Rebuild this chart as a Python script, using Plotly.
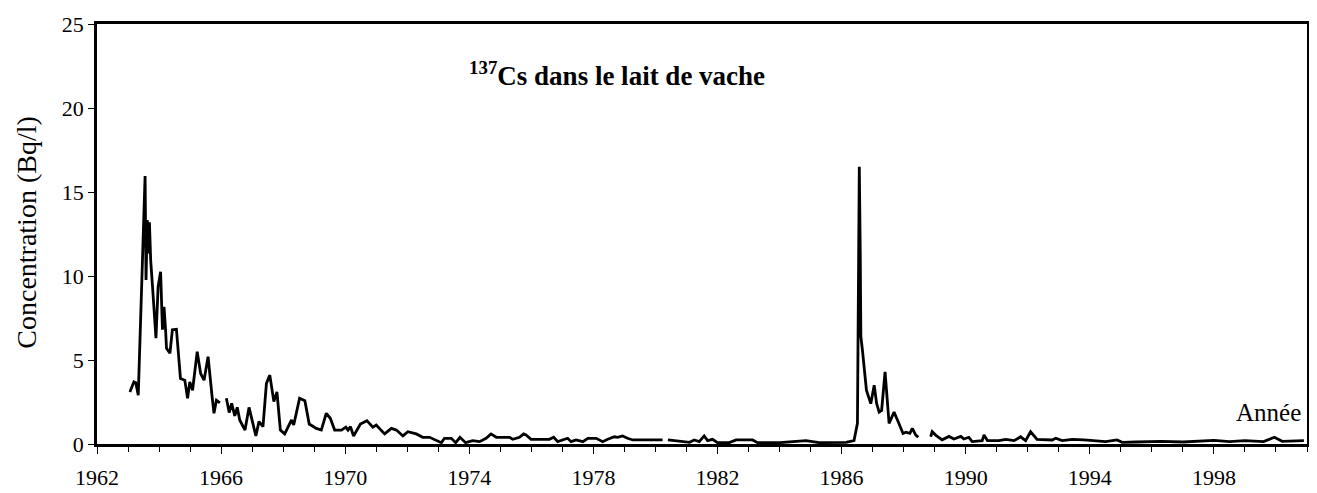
import plotly.graph_objs as go

# Data (None = gap in the record)
years = [
    1963.06, 1963.19, 1963.25, 1963.33, 1963.55, 1963.58, 1963.62, 1963.65, 1963.69, 1963.73,
    1963.79, 1963.90, 1963.97, 1964.05, 1964.11, 1964.16, 1964.21, 1964.24, 1964.35, 1964.43,
    1964.56, 1964.69, 1964.83, 1964.92, 1964.99, 1965.08, 1965.23, 1965.34, 1965.45, 1965.58,
    1965.70, 1965.77, 1965.85, 1965.96, 1966.06,
    1966.17, 1966.26, 1966.34, 1966.44, 1966.52, 1966.60, 1966.77, 1966.90, 1967.01, 1967.12,
    1967.22, 1967.35, 1967.46, 1967.57, 1967.70, 1967.80, 1967.91, 1968.05, 1968.27, 1968.34,
    1968.53, 1968.70, 1968.84, 1969.07, 1969.23, 1969.39, 1969.52, 1969.66, 1969.88, 1970.02,
    1970.09, 1970.17, 1970.27, 1970.49, 1970.70, 1970.89, 1971.00, 1971.27, 1971.49, 1971.65,
    1971.86, 1972.02, 1972.29, 1972.50, 1972.72, 1972.94, 1973.10, 1973.20, 1973.42, 1973.56,
    1973.70, 1973.88, 1974.11, 1974.33, 1974.54, 1974.70, 1974.87, 1975.30, 1975.40, 1975.62,
    1975.75, 1975.83, 1975.99, 1976.58, 1976.72, 1976.85, 1977.17, 1977.28, 1977.44, 1977.66,
    1977.82, 1978.09, 1978.30, 1978.46, 1978.68, 1978.78, 1978.94, 1979.10, 1979.27, 1980.23,
    1980.31,
    1980.40, 1980.56, 1981.10, 1981.25, 1981.41, 1981.57, 1981.68, 1981.84, 1982.00, 1982.38,
    1982.60, 1983.13, 1983.29, 1983.67, 1984.00, 1984.85, 1985.28, 1986.14, 1986.40, 1986.51,
    1986.57, 1986.60, 1986.62, 1986.67, 1986.80, 1986.94, 1987.05, 1987.13, 1987.21, 1987.29,
    1987.40, 1987.53, 1987.69, 1987.80, 1987.98, 1988.07, 1988.20, 1988.28, 1988.39, 1988.47,
    1988.67,
    1988.87, 1988.92, 1989.03, 1989.24, 1989.46, 1989.62, 1989.84, 1989.94, 1990.10, 1990.21,
    1990.53, 1990.59, 1990.70, 1991.07, 1991.29, 1991.56, 1991.77, 1991.93, 1992.09, 1992.30,
    1992.79, 1992.90, 1993.11, 1993.43, 1993.81, 1994.08, 1994.51, 1994.88, 1995.04, 1995.50,
    1996.30, 1997.00, 1997.60, 1998.00, 1998.50, 1999.00, 1999.60, 1999.95, 2000.20, 2000.90,
]
concentration = [
    3.10, 3.70, 3.65, 2.90, 15.95, 9.76, 13.33, 11.35, 13.20, 10.95,
    9.36, 6.30, 9.36, 10.25, 6.80, 8.17, 6.80, 5.70, 5.40, 6.80,
    6.83, 3.90, 3.80, 2.72, 3.70, 3.20, 5.50, 4.20, 3.80, 5.20,
    3.00, 1.83, 2.60, 2.45, None,
    2.72, 1.87, 2.42, 1.67, 2.18, 1.43, 0.83, 2.18, 1.33, 0.48,
    1.33, 1.03, 3.60, 4.10, 2.52, 3.10, 0.83, 0.60, 1.43, 1.13,
    2.72, 2.58, 1.19, 0.93, 0.83, 1.83, 1.53, 0.83, 0.83, 1.00,
    0.83, 1.03, 0.48, 1.19, 1.39, 1.00, 1.13, 0.60, 0.93, 0.83,
    0.48, 0.73, 0.60, 0.40, 0.40, 0.24, 0.08, 0.34, 0.34, 0.08,
    0.40, 0.08, 0.20, 0.14, 0.34, 0.60, 0.40, 0.40, 0.28, 0.40,
    0.60, 0.54, 0.28, 0.28, 0.40, 0.14, 0.34, 0.14, 0.24, 0.14,
    0.34, 0.34, 0.14, 0.28, 0.43, 0.40, 0.48, 0.34, 0.24, 0.24,
    None,
    0.24, 0.20, 0.10, 0.24, 0.14, 0.48, 0.20, 0.28, 0.08, 0.08,
    0.24, 0.24, 0.08, 0.08, 0.08, 0.20, 0.08, 0.10, 0.20, 1.23,
    16.50, 11.50, 6.40, 5.60, 3.20, 2.40, 3.50, 2.40, 1.90, 2.00,
    4.30, 1.23, 1.90, 1.43, 0.63, 0.70, 0.63, 0.93, 0.53, 0.40,
    None,
    0.43, 0.73, 0.53, 0.25, 0.45, 0.30, 0.45, 0.30, 0.40, 0.14,
    0.20, 0.54, 0.20, 0.20, 0.28, 0.20, 0.43, 0.20, 0.73, 0.28,
    0.24, 0.34, 0.20, 0.28, 0.24, 0.20, 0.14, 0.24, 0.10, 0.12,
    0.16, 0.12, 0.16, 0.22, 0.14, 0.20, 0.14, 0.40, 0.16, 0.20,
]

tick_years = [1962, 1966, 1970, 1974, 1978, 1982, 1986, 1990, 1994, 1998]
conc_ticks = [0, 5, 10, 15, 20, 25]

serif = "Liberation Serif, Times New Roman, serif"

fig = go.Figure()

fig.add_trace(go.Scatter(
    x=years,
    y=concentration,
    mode='lines',
    line=dict(color='black', width=2.8),
    connectgaps=False,
    hoverinfo='x+y'
))

# the page body adds an 8px margin, so the figure is sized 8px smaller
fig.update_layout(
    width=1309,
    height=485,
    margin=dict(l=89, r=10, t=16, b=49, autoexpand=False),
    plot_bgcolor='white',
    paper_bgcolor='white',
    showlegend=False,
    font=dict(family=serif, color='black'),
    xaxis=dict(
        range=[1962, 2001],
        tickvals=tick_years,
        ticktext=[str(y) for y in tick_years],
        ticks='outside',
        ticklen=7,
        tickwidth=1,
        tickcolor='black',
        ticklabelstandoff=5,
        minor=dict(dtick=1, tick0=1962, ticks='outside', ticklen=5, tickcolor='black'),
        showline=True,
        linewidth=2.5,
        linecolor='black',
        mirror=True,
        showgrid=False,
        zeroline=False,
        automargin=False,
        tickfont=dict(family=serif, size=22),
    ),
    yaxis=dict(
        range=[0, 25],
        tickvals=conc_ticks,
        ticks='outside',
        ticklen=6,
        tickwidth=1,
        tickcolor='black',
        showline=True,
        linewidth=2.5,
        linecolor='black',
        mirror=True,
        showgrid=False,
        zeroline=False,
        automargin=False,
        tickfont=dict(family=serif, size=22),
    ),
)

# Chart title with superscript isotope number
fig.add_annotation(
    text="<b><sup>137</sup>Cs dans le lait de vache</b>",
    xref='paper', yref='paper',
    x=0.43, y=0.88,
    xanchor='center', yanchor='middle',
    showarrow=False,
    font=dict(family=serif, size=27, color='black'),
)

# Y axis title
fig.add_annotation(
    text="Concentration (Bq/l)",
    xref='paper', yref='paper',
    x=-0.058, y=0.505,
    xanchor='center', yanchor='middle',
    textangle=-90,
    showarrow=False,
    font=dict(family=serif, size=28, color='black'),
)

# X axis label inside the plot, bottom right
fig.add_annotation(
    text="Année",
    xref='paper', yref='paper',
    x=0.997, y=0.074,
    xanchor='right', yanchor='middle',
    showarrow=False,
    font=dict(family=serif, size=25, color='black'),
)

fig.write_html("out.html")
